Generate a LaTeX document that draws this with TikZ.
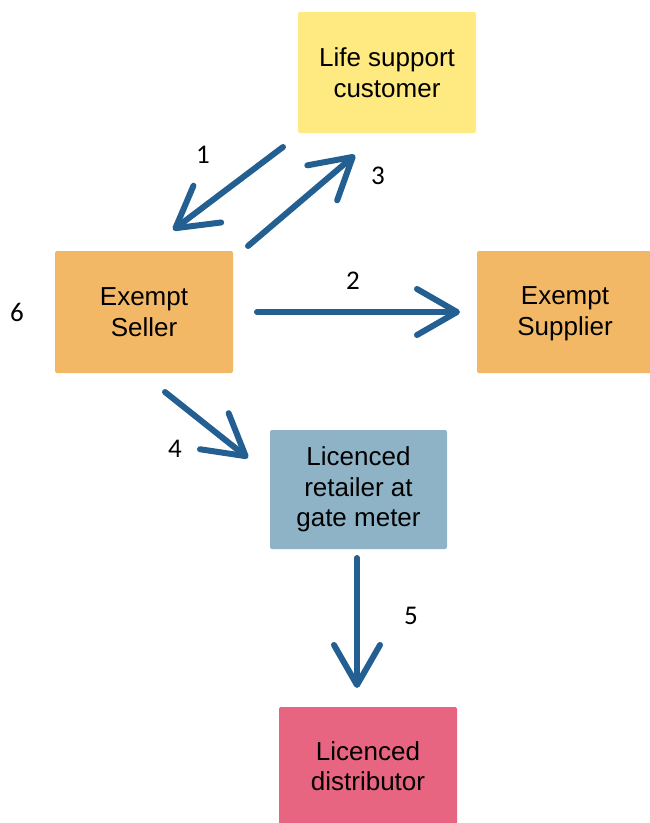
\documentclass[tikz,border=0pt]{standalone}
\usepackage{fontspec}
\setmainfont{Carlito}
\newfontfamily\boxfont{Liberation Sans}
\usetikzlibrary{arrows.meta}
\definecolor{cyel}{HTML}{FFE981}
\definecolor{corg}{HTML}{F3B866}
\definecolor{cblu}{HTML}{8FB3C6}
\definecolor{cpnk}{HTML}{E86581}
\definecolor{carr}{HTML}{235F91}
\begin{document}
\begin{tikzpicture}[x=1pt,y=-1pt,
  box/.style={fill=#1,draw=none,rounded corners=2pt,align=center,font=\boxfont\fontsize{26}{30.5}\selectfont,text=black},
  flow/.style={draw=carr,line width=6pt,line cap=round,-{Straight Barb[length=40pt,width=46pt,line cap=round,line join=round]}},
  lab/.style={font=\fontsize{27}{31}\selectfont,text=black}]
\useasboundingbox (0,0) rectangle (649,823);
\node[box=cyel,minimum width=178pt,minimum height=121pt] (life) at (387,72.5) {Life support\\customer};
\node[box=corg,minimum width=178pt,minimum height=122pt] (seller) at (144,312) {Exempt\\Seller};
\node[box=corg,minimum width=176pt,minimum height=122pt,text depth=2pt] (supp) at (565,312) {Exempt\\Supplier};
\node[box=cblu,minimum width=177pt,minimum height=119pt] (ret) at (358.5,489.5) {Licenced\\retailer at\\gate meter};
\node[box=cpnk,minimum width=178pt,minimum height=118pt] (dist) at (368,766) {Licenced\\distributor};
\coordinate (a1s) at (283,147); \coordinate (a1e) at (173,230);
\coordinate (a3s) at (248,246); \coordinate (a3e) at (355,155);
\coordinate (a2s) at (257,312); \coordinate (a2e) at (460,312);
\coordinate (a4s) at (165,392); \coordinate (a4e) at (248,458);
\coordinate (a5s) at (357,558); \coordinate (a5e) at (357,688);
\draw[flow] (a1s) -- (a1e);
\draw[flow] (a3s) -- (a3e);
\draw[flow] (a2s) -- (a2e);
\draw[flow] (a4s) -- (a4e);
\draw[flow] (a5s) -- (a5e);
\node[lab] (l1) at (203,155) {1};
\node[lab] (l3) at (378,176) {3};
\node[lab] (l2) at (353,281) {2};
\node[lab] (l6) at (17,312) {6};
\node[lab] (l4) at (175,449) {4};
\node[lab] (l5) at (411,616) {5};
\end{tikzpicture}
\end{document}
